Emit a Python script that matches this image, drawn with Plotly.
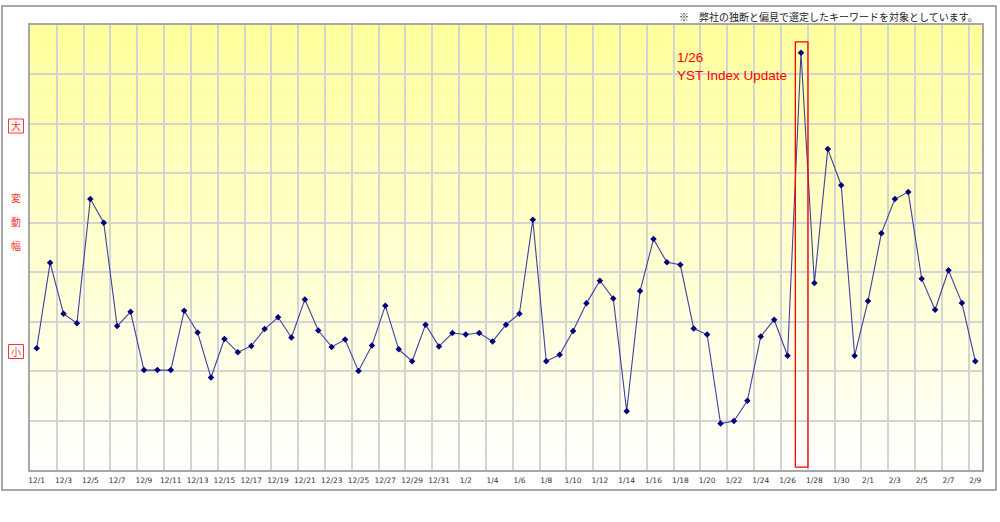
import plotly.graph_objects as go

# ---- data ----
days = list(range(71))  # 12/1 .. 2/9, one point per day
values = [2.46, 4.19, 3.16, 2.97, 5.48, 5.00, 2.91, 3.20, 2.02, 2.02,
          2.02, 3.22, 2.78, 1.87, 2.65, 2.38, 2.51, 2.85, 3.09, 2.68,
          3.45, 2.82, 2.49, 2.64, 2.00, 2.52, 3.32, 2.44, 2.20, 2.94,
          2.50, 2.77, 2.74, 2.77, 2.60, 2.94, 3.16, 5.06, 2.20, 2.33,
          2.81, 3.37, 3.83, 3.47, 1.19, 3.62, 4.67, 4.20, 4.15, 2.86,
          2.74, 0.94, 0.99, 1.40, 2.70, 3.04, 2.31, 8.44, 3.78, 6.49,
          5.76, 2.31, 3.42, 4.79, 5.48, 5.62, 3.87, 3.24, 4.04, 3.38,
          2.20]
tick_labels = ["12/1", "12/3", "12/5", "12/7", "12/9", "12/11", "12/13", "12/15",
               "12/17", "12/19", "12/21", "12/23", "12/25", "12/27", "12/29", "12/31",
               "1/2", "1/4", "1/6", "1/8", "1/10", "1/12", "1/14", "1/16",
               "1/18", "1/20", "1/22", "1/24", "1/26", "1/28", "1/30", "2/1",
               "2/3", "2/5", "2/7", "2/9"]
tick_pos = list(range(0, 71, 2))
grid_pos = [p - 0.5 for p in range(0, 72, 2)]
highlight_day = 57
note_text = "※　弊社の独断と偏見で選定したキーワードを対象としています。"
event_text = "1/26<br>YST Index Update"

W, H = 1000, 522
L, R, T, B = 30, 18, 25, 52
PW, PH = W - L - R, H - T - B
YMAX = 9


def px_x(p):
    return (p - L) / PW


def px_y(p):
    return (H - B - p) / PH


fig = go.Figure()

fig.add_trace(go.Scatter(
    x=days, y=values, mode="lines+markers",
    line=dict(color="#4040a6", width=1.1),
    marker=dict(symbol="diamond", size=5, color="#000080"),
    hoverinfo="skip", showlegend=False, xaxis="x", yaxis="y"))

# invisible trace to carry the label axis
fig.add_trace(go.Scatter(x=[days[0], days[-1]], y=[0, 0], mode="markers",
                         marker=dict(opacity=0), hoverinfo="skip",
                         showlegend=False, xaxis="x2", yaxis="y"))

shapes = []
# vertical gradient background (yellow at top to white at bottom)
n = 90
for i in range(n):
    y0 = YMAX * i / n
    y1 = YMAX * (i + 1) / n
    t = (i + 0.5) / n
    b = int(round(255 - 102 * t))
    shapes.append(dict(type="rect", xref="paper", yref="y", x0=0, x1=1, y0=y0, y1=y1,
                       fillcolor=f"rgb(255,255,{b})", line=dict(width=0), layer="below"))
# highlight box
shapes.append(dict(type="rect", xref="x", yref="y",
                   x0=highlight_day - 0.42, x1=highlight_day + 0.52, y0=0.06, y1=8.66,
                   line=dict(color="#ff0000", width=1.3), fillcolor="rgba(0,0,0,0)", layer="above"))
# outer frame
shapes.append(dict(type="rect", xref="paper", yref="paper",
                   x0=px_x(2), x1=px_x(996), y0=px_y(490), y1=px_y(6),
                   line=dict(color="#8a8a8a", width=1.5), fillcolor="rgba(0,0,0,0)"))
# boxes around 大 and 小
for cy in (126, 351.5):
    shapes.append(dict(type="rect", xref="paper", yref="paper",
                       x0=px_x(8.5), x1=px_x(23.5), y0=px_y(cy + 7), y1=px_y(cy - 7),
                       line=dict(color="#ff3333", width=1), fillcolor="white"))

annotations = [
    dict(text=note_text, xref="paper", yref="paper", x=px_x(980), y=px_y(16),
         xanchor="right", yanchor="middle", showarrow=False,
         font=dict(family="Noto Sans CJK JP", size=10, color="#222222")),
    dict(text=event_text, xref="paper", yref="paper", x=px_x(675), y=px_y(48),
         xanchor="left", yanchor="top", align="left", showarrow=False,
         font=dict(family="Liberation Sans, Arial", size=13.5, color="#ff0000")),
]
for txt, cy in (("大", 126), ("変", 197), ("動", 221), ("幅", 245), ("小", 351.5)):
    annotations.append(dict(text=txt, xref="paper", yref="paper", x=px_x(16), y=px_y(cy),
                            xanchor="center", yanchor="middle", showarrow=False,
                            font=dict(family="Noto Sans CJK JP", size=10, color="#ff3333")))

fig.update_layout(
    width=W, height=H,
    margin=dict(l=L, r=R, t=T, b=B, pad=0),
    paper_bgcolor="white", plot_bgcolor="white",
    shapes=shapes, annotations=annotations,
    xaxis=dict(range=[-0.5, 70.5], tickmode="array", tickvals=grid_pos,
               showticklabels=False, ticks="", showgrid=True,
               gridcolor="#d4d4d4", gridwidth=1.6, zeroline=False,
               showline=True, linecolor="#a8a8a8", linewidth=2, mirror=True),
    xaxis2=dict(range=[-0.5, 70.5], overlaying="x", side="bottom", anchor="y",
                tickmode="array", tickvals=tick_pos, ticktext=tick_labels,
                showgrid=False, zeroline=False, showline=False, ticks="",
                ticklabelstandoff=4,
                tickfont=dict(family="Verdana, DejaVu Sans", size=7.5, color="#333333")),
    yaxis=dict(range=[0, YMAX], dtick=1, showticklabels=False, ticks="",
               showgrid=True, gridcolor="#d4d4d4", gridwidth=1.6, zeroline=False,
               showline=True, linecolor="#a8a8a8", linewidth=2, mirror=True),
)

fig.write_html("out.html")
